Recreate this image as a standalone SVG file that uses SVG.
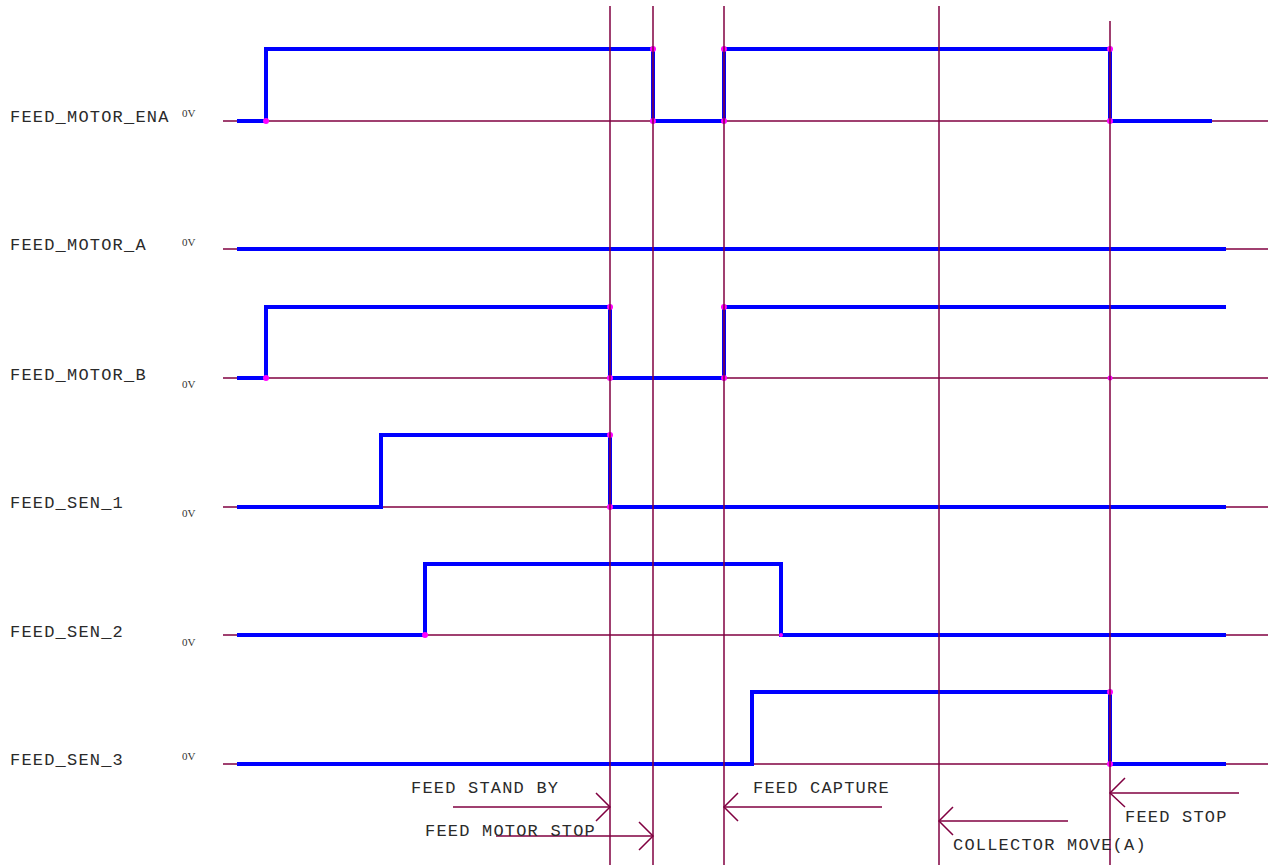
<svg xmlns="http://www.w3.org/2000/svg" width="1271" height="865" viewBox="0 0 1271 865">
<defs>
<style>
.lbl{font-family:"Liberation Mono","DejaVu Sans Mono",monospace;font-size:17px;letter-spacing:1.2px;fill:#2a2a2a}
.v0{font-family:"Liberation Serif","DejaVu Serif",serif;font-size:11px;fill:#333}
.base{stroke:#800040;stroke-width:1.5;fill:none}
.grid{stroke:#800040;stroke-width:1.5;fill:none}
.sig{stroke:#0000FF;stroke-width:4;fill:none;stroke-linejoin:miter;stroke-linecap:butt}
.dot{fill:#FF00FF}
.arr{stroke:#800040;stroke-width:1.5;fill:none}
</style>
</defs>
<rect width="1271" height="865" fill="#ffffff"/>
<g id="baselines">
<line class="base" x1="223" y1="121" x2="1268" y2="121"/>
<line class="base" x1="223" y1="249" x2="1268" y2="249"/>
<line class="base" x1="223" y1="378" x2="1268" y2="378"/>
<line class="base" x1="223" y1="507" x2="1268" y2="507"/>
<line class="base" x1="223" y1="635" x2="1268" y2="635"/>
<line class="base" x1="223" y1="764" x2="1268" y2="764"/>
</g>
<g id="signal-feed-motor-ena">
<text class="lbl" x="10" y="122">FEED_MOTOR_ENA</text>
<text class="v0" x="182" y="117">0V</text>
<polyline class="sig" points="237,121 266,121 266,49 653,49 653,121 724,121 724,49 1110,49 1110,121 1212,121"/>
<circle class="dot" cx="266" cy="121" r="3"/>
<circle class="dot" cx="653" cy="49" r="3"/>
<circle class="dot" cx="653" cy="121" r="3"/>
<circle class="dot" cx="724" cy="121" r="3"/>
<circle class="dot" cx="724" cy="49" r="3"/>
<circle class="dot" cx="1110" cy="49" r="3"/>
<circle class="dot" cx="1110" cy="121" r="3"/>
</g>
<g id="signal-feed-motor-a">
<text class="lbl" x="10" y="250">FEED_MOTOR_A</text>
<text class="v0" x="182" y="246">0V</text>
<polyline class="sig" points="237,249 1226,249"/>
</g>
<g id="signal-feed-motor-b">
<text class="lbl" x="10" y="380">FEED_MOTOR_B</text>
<text class="v0" x="182" y="388">0V</text>
<polyline class="sig" points="237,378 266,378 266,307 610,307 610,378 724,378 724,307 1226,307"/>
<circle class="dot" cx="266" cy="378" r="3"/>
<circle class="dot" cx="610" cy="307" r="3"/>
<circle class="dot" cx="610" cy="378" r="3"/>
<circle class="dot" cx="724" cy="378" r="3"/>
<circle class="dot" cx="724" cy="307" r="3"/>
<circle class="dot" cx="1110" cy="378" r="2.5"/>
</g>
<g id="signal-feed-sen-1">
<text class="lbl" x="10" y="508">FEED_SEN_1</text>
<text class="v0" x="182" y="517">0V</text>
<polyline class="sig" points="237,507 381,507 381,435 610,435 610,507 1226,507"/>
<circle class="dot" cx="610" cy="435" r="3"/>
<circle class="dot" cx="610" cy="507" r="3"/>
</g>
<g id="signal-feed-sen-2">
<text class="lbl" x="10" y="637">FEED_SEN_2</text>
<text class="v0" x="182" y="646">0V</text>
<polyline class="sig" points="237,635 425,635 425,564 781,564 781,635 1226,635"/>
<circle class="dot" cx="425" cy="635" r="3"/>
<circle class="dot" cx="781" cy="635" r="2"/>
</g>
<g id="signal-feed-sen-3">
<text class="lbl" x="10" y="765">FEED_SEN_3</text>
<text class="v0" x="182" y="760">0V</text>
<polyline class="sig" points="237,764 752,764 752,692 1110,692 1110,764 1226,764"/>
<circle class="dot" cx="1110" cy="692" r="3"/>
<circle class="dot" cx="1110" cy="764" r="3"/>
</g>
<g id="markers">
<line class="grid" x1="610" y1="6" x2="610" y2="865"/>
<line class="grid" x1="653" y1="6" x2="653" y2="865"/>
<line class="grid" x1="724" y1="6" x2="724" y2="865"/>
<line class="grid" x1="939" y1="6" x2="939" y2="865"/>
<line class="grid" x1="1110" y1="21" x2="1110" y2="865"/>
</g>
<g id="connectors">
<line class="arr" x1="453" y1="807" x2="610" y2="807"/>
<polyline class="arr" points="596,793 610,807 596,821"/>
<line class="arr" x1="496" y1="836" x2="653" y2="836"/>
<polyline class="arr" points="639,822 653,836 639,850"/>
<line class="arr" x1="724" y1="807" x2="882" y2="807"/>
<polyline class="arr" points="738,793 724,807 738,821"/>
<line class="arr" x1="939" y1="821" x2="1068" y2="821"/>
<polyline class="arr" points="953,807 939,821 953,835"/>
<line class="arr" x1="1110" y1="793" x2="1239" y2="793"/>
<polyline class="arr" points="1125,778 1110,793 1125,807"/>
</g>
<g id="annotations">
<text class="lbl" x="411" y="793">FEED STAND BY</text>
<text class="lbl" x="425" y="836">FEED MOTOR STOP</text>
<text class="lbl" x="753" y="793">FEED CAPTURE</text>
<text class="lbl" x="1125" y="822">FEED STOP</text>
<text class="lbl" x="953" y="850">COLLECTOR MOVE(A)</text>
</g>
</svg>
